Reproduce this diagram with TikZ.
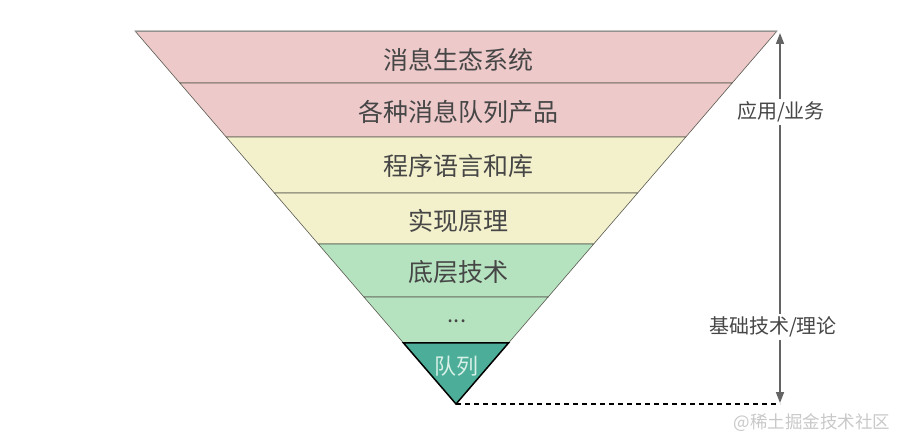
\documentclass[tikz,border=0pt]{standalone}
\usepackage{fontspec}
\setmainfont{Noto Sans CJK SC}
\usetikzlibrary{arrows.meta}
\definecolor{pinkL}{RGB}{237,201,202}
\definecolor{yellowL}{RGB}{243,240,204}
\definecolor{greenL}{RGB}{181,227,191}
\definecolor{tealL}{RGB}{76,174,152}
\definecolor{txt}{RGB}{70,70,70}
\definecolor{sep}{RGB}{90,90,80}
\definecolor{arr}{RGB}{100,100,100}
\tikzset{
  layer/.style={draw=sep, line width=0.6pt},
  ltext/.style={font=\fontsize{25}{28}\selectfont, text=txt, inner sep=0pt},
  rtext/.style={font=\fontsize{20}{22}\selectfont, text=txt, fill=white, inner sep=3pt},
  axis/.style={draw=arr, line width=1.6pt, {Triangle[length=11pt,width=8pt]}-{Triangle[length=11pt,width=8pt]}},
  baseline/.style={draw=black, line width=1.6pt, dash pattern=on 5pt off 4pt},
}
\begin{document}
\begin{tikzpicture}[x=1pt,y=-1pt]
\useasboundingbox (0,0) rectangle (908,446);
% corner coordinates
\coordinate (TL) at (135,31);
\coordinate (TR) at (777,31);
\coordinate (A) at (456,404);
% layers
\path[layer, fill=pinkL] (135,31) -- (777,31) -- (732.2,83) -- (179.8,83) -- cycle;
\path[layer, fill=pinkL] (179.8,83) -- (732.2,83) -- (685.8,137) -- (226.2,137) -- cycle;
\path[layer, fill=yellowL] (226.2,137) -- (685.8,137) -- (637.6,193) -- (274.4,193) -- cycle;
\path[layer, fill=yellowL] (274.4,193) -- (637.6,193) -- (593.7,244) -- (318.3,244) -- cycle;
\path[layer, fill=greenL] (318.3,244) -- (593.7,244) -- (548.1,297) -- (363.9,297) -- cycle;
\path[layer, fill=greenL] (363.9,297) -- (548.1,297) -- (508.5,343) -- (403.5,343) -- cycle;
\path[draw=black, line width=1.5pt, fill=tealL, line join=miter] (403.5,343) -- (508.5,343) -- (A) -- cycle;
% outer edge
\draw[draw=arr!70, line width=0.6pt] (TL) -- (TR);
% labels
\node[ltext] (l1) at (458,60) {消息生态系统};
\node[ltext] (l2) at (458,112) {各种消息队列产品};
\node[ltext] (l3) at (458,166) {程序语言和库};
\node[ltext] (l4) at (458,221) {实现原理};
\node[ltext] (l5) at (458,272) {底层技术};
\node[ltext] (l6) at (457,321) {\fontsize{22}{24}\selectfont ...};
\node[ltext, font=\fontsize{22}{24}\selectfont, text={rgb,255:red,215;green,240;blue,232}] (l7) at (456,366) {队列};
% axis
\coordinate (ab) at (780,403);
\coordinate (at) at (780,33);
\coordinate (db) at (780,404);
\draw[axis] (ab) -- (at);
\draw[baseline] (A) -- (db);
\node[rtext] (r1) at (781,112) {应用/业务};
\node[rtext] (r2) at (773,327) {基础技术/理论};
\node[font=\fontsize{17.5}{19}\selectfont, text={rgb,255:red,200;green,200;blue,200}] (wm) at (812,423) {@稀土掘金技术社区};
\end{tikzpicture}
\end{document}
